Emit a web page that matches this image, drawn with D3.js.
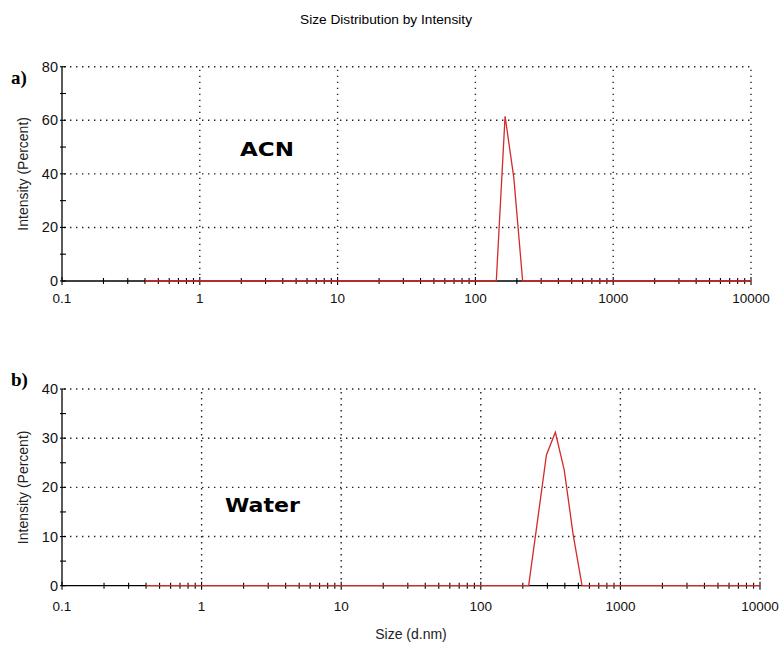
<!DOCTYPE html>
<html><head><meta charset="utf-8">
<script src="https://cdn.jsdelivr.net/npm/d3@7/dist/d3.min.js"></script>
<style>body{margin:0;background:#fff}svg{display:block}</style>
</head><body>
<script>
// ---- data ----
const sizesA = [0.4, 122.4, 141.8, 164.2, 190.1, 220.2, 255.0, 10000];
const intensityA = [0, 0, 0, 61.5, 38.5, 0, 0, 0];
const sizesB = [0.4, 190.1, 220.2, 255.0, 295.3, 342.0, 396.1, 458.7, 531.2, 615.1, 10000];
const intensityB = [0, 0, 0, 13.3, 26.6, 31.2, 23.5, 10.4, 0, 0, 0];
const xTickValues = [0.1, 1, 10, 100, 1000, 10000];
const xTickLabels = ["0.1", "1", "10", "100", "1000", "10000"];
const yTicksA = [0, 20, 40, 60, 80];
const yTicksB = [0, 10, 20, 30, 40];
const panelLabels = ["a)", "b)"];
const sampleNames = ["ACN", "Water"];
const title = "Size Distribution by Intensity";
const xTitle = "Size (d.nm)";
const yTitle = "Intensity (Percent)";

const W = 783, H = 645;
const svg = d3.select("body").append("svg").attr("width", W).attr("height", H);
const sans = "'Liberation Sans', Arial, sans-serif";

svg.append("text").attr("x", 386).attr("y", 24).attr("text-anchor", "middle")
  .attr("font-family", "'Liberation Sans Narrow', 'Liberation Sans', Arial, sans-serif")
  .attr("font-size", 12.5).attr("textLength", 172).attr("lengthAdjust", "spacingAndGlyphs")
  .text(title);

const panels = [
  {sizes: sizesA, vals: intensityA, yt: yTicksA, ymax: 80, minor: 10,
   x0: 62, x1: 751, yTop: 66.7, yBot: 281, lab: panelLabels[0], labY: 84,
   name: sampleNames[0], nameX: 240, nameY: 155.7, nameW: 54, xlabY: 303, ytX: 28},
  {sizes: sizesB, vals: intensityB, yt: yTicksB, ymax: 40, minor: 5,
   x0: 62, x1: 760, yTop: 389, yBot: 585.7, lab: panelLabels[1], labY: 386,
   name: sampleNames[1], nameX: 225, nameY: 511.7, nameW: 75, xlabY: 611, ytX: 27.5}
];

panels.forEach(p => {
  const x = d3.scaleLog().domain([0.1, 10000]).range([p.x0, p.x1]);
  const y = d3.scaleLinear().domain([0, p.ymax]).range([p.yBot, p.yTop]);
  const g = svg.append("g");

  // dotted grid
  const dot = {stroke: "#222", "stroke-width": 1.4, "stroke-dasharray": "1.4,4.6"};
  p.yt.filter(v => v > 0).forEach(v => {
    const l = g.append("line").attr("x1", p.x0 + 2).attr("x2", p.x1).attr("y1", y(v)).attr("y2", y(v));
    Object.entries(dot).forEach(([k, val]) => l.attr(k, val));
  });
  xTickValues.filter(v => v > 0.1).forEach(v => {
    const l = g.append("line").attr("x1", x(v)).attr("x2", x(v)).attr("y1", p.yTop + 3).attr("y2", p.yBot - 2);
    Object.entries(dot).forEach(([k, val]) => l.attr(k, val));
  });

  // x axis line with log ticks
  g.append("line").attr("x1", p.x0).attr("x2", p.x1).attr("y1", p.yBot).attr("y2", p.yBot)
    .attr("stroke", "#000").attr("stroke-width", 1.3);
  x.ticks().forEach(v => {
    const major = xTickValues.some(m => Math.abs(m - v) / m < 1e-6);
    g.append("line").attr("x1", x(v)).attr("x2", x(v))
      .attr("y1", p.yBot - (major ? 4 : 3)).attr("y2", p.yBot + (major ? 4 : 3))
      .attr("stroke", "#000").attr("stroke-width", 1.1);
  });
  xTickValues.forEach((v, i) => {
    g.append("text").attr("x", x(v)).attr("y", p.xlabY).attr("text-anchor", "middle")
      .attr("font-family", sans).attr("font-size", 13.5).attr("fill", "#111").text(xTickLabels[i]);
  });

  // y axis
  g.append("line").attr("x1", p.x0).attr("x2", p.x0).attr("y1", p.yTop).attr("y2", p.yBot)
    .attr("stroke", "#000").attr("stroke-width", 1.3);
  d3.range(0, p.ymax + 0.001, p.minor).forEach(v => {
    g.append("line").attr("x1", p.x0 - 2).attr("x2", p.x0 + 4).attr("y1", y(v)).attr("y2", y(v))
      .attr("stroke", "#000").attr("stroke-width", 1.1);
  });
  p.yt.forEach(v => {
    g.append("text").attr("x", 58).attr("y", y(v) + 5).attr("text-anchor", "end")
      .attr("font-family", sans).attr("font-size", 14.5).attr("fill", "#111").text(v);
  });

  // y title
  g.append("text").attr("transform", `translate(${p.ytX},${(p.yTop + p.yBot) / 2}) rotate(-90)`)
    .attr("text-anchor", "middle").attr("font-family", sans).attr("font-size", 14)
    .attr("fill", "#222").text(yTitle);

  // data line
  const line = d3.line().x((d, i) => x(p.sizes[i])).y(d => y(d));
  g.append("path").datum(p.vals).attr("d", line).attr("fill", "none")
    .attr("stroke", "#d42a2a").attr("stroke-width", 1.3).attr("stroke-linejoin", "miter");

  // panel label
  g.append("text").attr("x", 11).attr("y", p.labY)
    .attr("font-family", "'Liberation Serif', 'Times New Roman', serif").attr("font-weight", "bold")
    .attr("font-size", 19).attr("fill", "#000").text(p.lab);

  // sample name
  g.append("text").attr("x", p.nameX).attr("y", p.nameY)
    .attr("font-family", "'DejaVu Sans', Verdana, sans-serif").attr("font-weight", "bold")
    .attr("font-size", 19.5).attr("textLength", p.nameW).attr("lengthAdjust", "spacingAndGlyphs")
    .attr("fill", "#000").text(p.name);
});

svg.append("text").attr("x", 411).attr("y", 639).attr("text-anchor", "middle")
  .attr("font-family", sans).attr("font-size", 14).attr("fill", "#222").text(xTitle);
</script>
</body></html>
